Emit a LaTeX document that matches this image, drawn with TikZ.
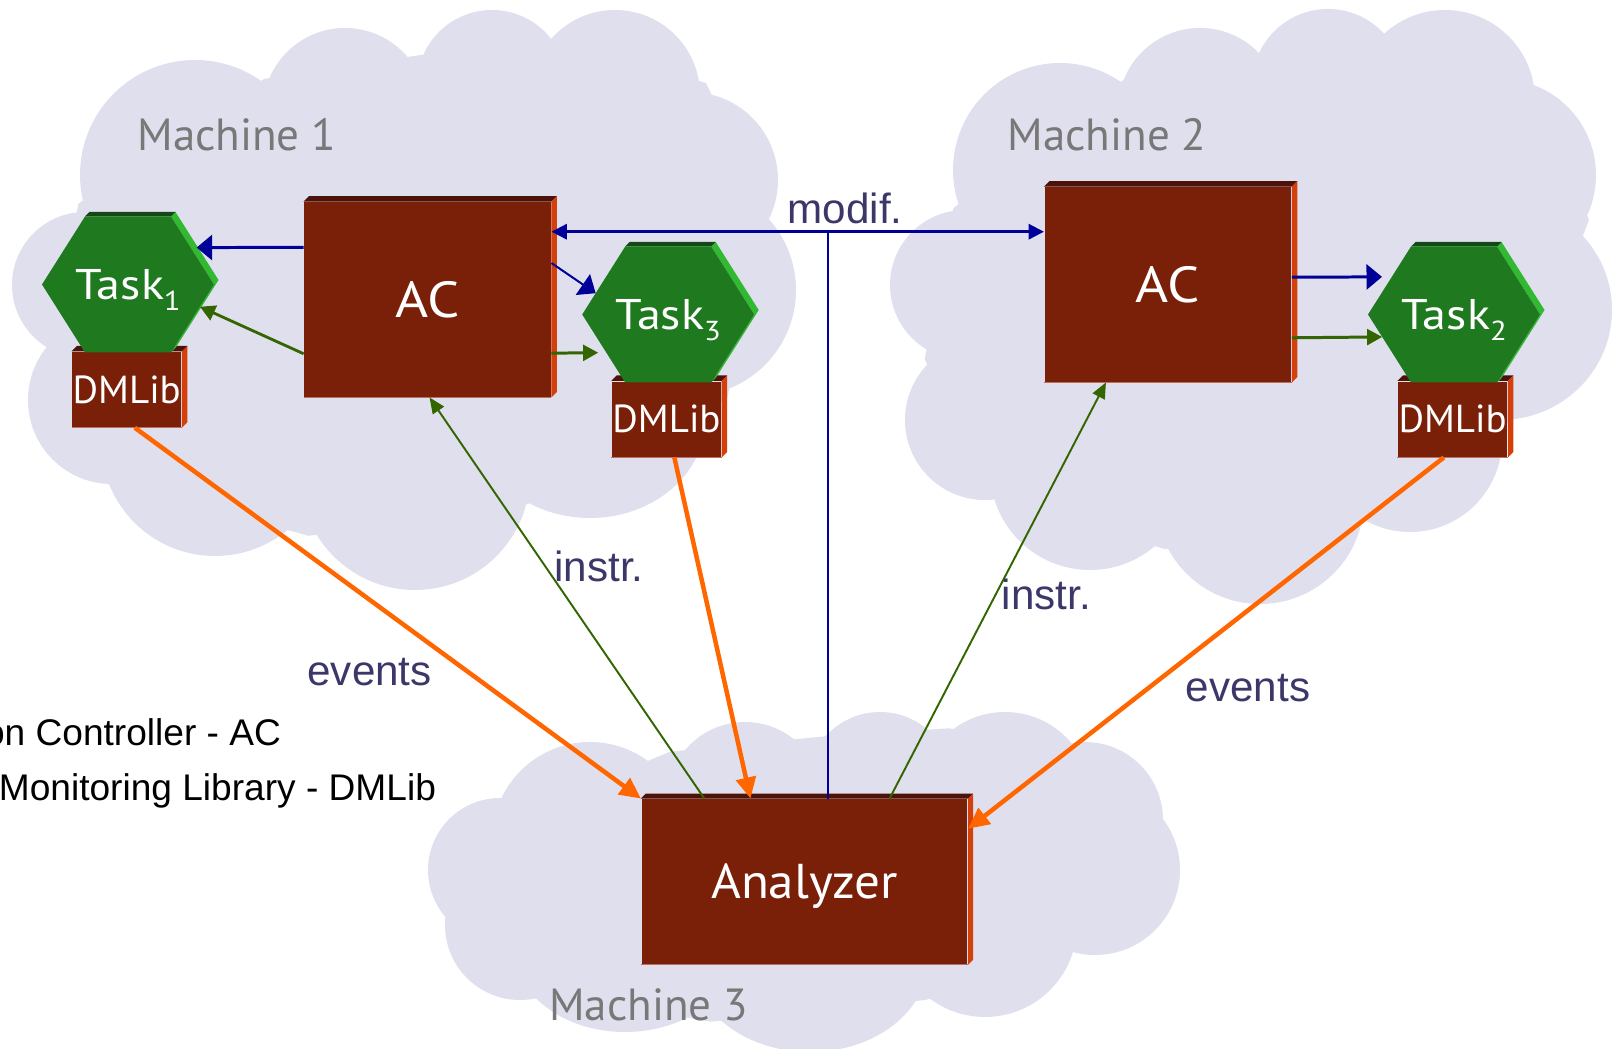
\documentclass[tikz,border=0pt]{standalone}
\usepackage{fontspec}
\setmainfont{PT Sans}
\newfontfamily\labelfont{Liberation Sans}
\newfontfamily\wideboxfont{PT Sans}[FakeStretch=1.12]
\newfontfamily\analyzerfont{PT Sans}[FakeStretch=1.045]
\usetikzlibrary{arrows.meta,calc}

\definecolor{cloudc}{RGB}{223,223,238}
\definecolor{boxred}{RGB}{122,31,8}
\definecolor{boxtop}{RGB}{77,18,8}
\definecolor{boxside}{RGB}{211,64,12}
\definecolor{boxedge}{RGB}{190,110,95}
\definecolor{hexfront}{RGB}{31,122,31}
\definecolor{hextop}{RGB}{20,72,20}
\definecolor{hexside}{RGB}{50,185,50}
\definecolor{navyc}{RGB}{0,0,153}
\definecolor{greenc}{RGB}{51,102,0}
\definecolor{orangec}{RGB}{255,102,0}
\definecolor{labelc}{RGB}{60,55,105}
\definecolor{machinegray}{RGB}{120,120,120}

% extruded top and right faces of a box node
\newcommand{\boxfaces}[2]{%
  \fill[boxtop] (#1.north west) -- ++(#2,-#2) -- ([shift={(#2,-#2)}]#1.north east) -- (#1.north east) -- cycle;
  \fill[boxside] (#1.north east) -- ([shift={(#2,-#2)}]#1.north east) -- ([shift={(#2,-#2)}]#1.south east) -- (#1.south east) -- cycle;
  \draw[boxedge, line width=0.3pt] (#1.south west) -- (#1.south east);
}

% a task hexagon with its corner coordinates: name, centre x, centre y, text
\newcommand{\taskhex}[4]{%
  \fill[hexside] ({#2+43},{#3-68}) -- ({#2+86},{#3}) -- ({#2+43},{#3+68}) -- ({#2+47.5},{#3+63.5}) -- ({#2+90.5},{#3-4.5}) -- ({#2+47.5},{#3-72.5}) -- cycle;
  \fill[hextop] ({#2-43},{#3-68}) -- ({#2+43},{#3-68}) -- ({#2+47.5},{#3-72.5}) -- ({#2-38.5},{#3-72.5}) -- cycle;
  \fill[hexfront] ({#2-86},{#3}) -- ({#2-43},{#3-68}) -- ({#2+43},{#3-68}) -- ({#2+86},{#3}) -- ({#2+43},{#3+68}) -- ({#2-43},{#3+68}) -- cycle;
  \node[hexslot] (#1) at (#2,#3) {#4};
  \coordinate (#1-w)  at ({#2-86},{#3});
  \coordinate (#1-nw) at ({#2-43},{#3-68});
  \coordinate (#1-ne) at ({#2+43},{#3-68});
  \coordinate (#1-e)  at ({#2+86},{#3});
  \coordinate (#1-se) at ({#2+43},{#3+68});
  \coordinate (#1-sw) at ({#2-43},{#3+68});
}

\newcommand{\tasksub}[1]{\raisebox{-3pt}{\fontsize{7.8}{8}\selectfont #1}}

\begin{document}
\begin{tikzpicture}[x=0.01cm, y=-0.01cm,
  cloudbg/.style={fill=cloudc},
  boxnode/.style={rectangle, fill=boxred, inner sep=0pt, text=white, text depth=0pt},
  acbox/.style={boxnode, minimum width=2.463cm, minimum height=1.944cm,
    font=\wideboxfont\fontsize{14.4}{16}\selectfont, text height=10.1pt},
  anbox/.style={boxnode, minimum width=3.256cm, minimum height=1.647cm,
    font=\analyzerfont\fontsize{13.9}{16}\selectfont, text height=9.76pt},
  dmbox/.style={boxnode, minimum width=1.09cm, minimum height=0.75cm,
    font=\fontsize{11.1}{13}\selectfont, text height=7.77pt},
  hexslot/.style={rectangle, inner sep=0pt, minimum width=1.72cm, minimum height=1.36cm,
    text=white, font=\wideboxfont\fontsize{12.2}{14}\selectfont, text height=8.54pt, text depth=0pt},
  machine/.style={text=machinegray, font=\fontsize{12.8}{15}\selectfont, anchor=base, inner sep=0pt},
  flowlabel/.style={text=labelc, font=\labelfont\fontsize{12}{14}\selectfont, anchor=base, inner sep=0pt},
  legendline/.style={text=black, font=\labelfont\fontsize{10.55}{12}\selectfont, anchor=base east, inner sep=0pt},
  ctrlblue/.style={draw=navyc, line width=0.85pt, -{Triangle[length=4.4pt,width=7.1pt]}},
  ctrlbluethin/.style={draw=navyc, line width=0.57pt, -{Triangle[length=4.4pt,width=7.1pt]}},
  modifline/.style={draw=navyc, line width=0.85pt,
    {Triangle[length=4.4pt,width=4.3pt]}-{Triangle[length=4.4pt,width=4.3pt]}},
  modifstem/.style={draw=navyc, line width=0.57pt},
  ctrlgreen/.style={draw=greenc, line width=0.8pt, -{Triangle[length=4.3pt,width=4.5pt]}},
  instrline/.style={draw=greenc, line width=0.55pt, -{Triangle[length=4.5pt,width=3.8pt]}},
  eventline/.style={draw=orangec, line width=1.28pt, -{Triangle[length=6pt,width=5.6pt]}}
]
\useasboundingbox (0,0) rectangle (1612,1049);

% ---- cloud of machine 1
\fill[cloudbg] (78.5,203.6) -- (264,79) -- (418,55.4) -- (551.8,39.5) -- (706,83) -- (768.8,215.5)
  -- (727,399) -- (528,504) -- (308.6,535.8) -- (120.3,484.4) -- (49.7,350) -- cycle;
\fill[cloudbg] (85,285) circle[radius=73];
\fill[cloudbg] (195,175) circle[radius=115];
\fill[cloudbg] (345,110) circle[radius=82];
\fill[cloudbg] (492,85) circle[radius=75];
\fill[cloudbg] (615,95) circle[radius=85];
\fill[cloudbg] (690,180) circle[radius=88];
\fill[cloudbg] (690,290) circle[radius=106];
\fill[cloudbg] (590,420) ellipse[x radius=115, y radius=98];
\fill[cloudbg] (415,475) circle[radius=115];
\fill[cloudbg] (215,442) circle[radius=114];
\fill[cloudbg] (112,400) circle[radius=84];

% ---- cloud of machine 2
\fill[cloudbg] (953.5,208) -- (924.7,359) -- (987,496) -- (1164.5,549) -- (1363.6,522.4) -- (1512,420)
  -- (1589,220) -- (1531.5,83.7) -- (1387.6,40.8) -- (1265,55) -- (1123.8,79.6) -- cycle;
\fill[cloudbg] (965,285) circle[radius=75];
\fill[cloudbg] (985,420) circle[radius=80];
\fill[cloudbg] (1090,470) circle[radius=100];
\fill[cloudbg] (1260,500) circle[radius=104];
\fill[cloudbg] (1410,440) circle[radius=92];
\fill[cloudbg] (1500,310) ellipse[x radius=112, y radius=110];
\fill[cloudbg] (1500,175) circle[radius=96];
\fill[cloudbg] (1445,100) circle[radius=90];
\fill[cloudbg] (1328,85) circle[radius=76];
\fill[cloudbg] (1200,110) circle[radius=82];
\fill[cloudbg] (1060,170) circle[radius=107];

% ---- cloud of machine 3
\fill[cloudbg] (494.4,825) -- (463.8,910) -- (527.6,990) -- (711,1021.7) -- (925.5,1000) -- (1078.6,946.7)
  -- (1155,831.7) -- (1094,753) -- (948.5,728.3) -- (821,736.7) -- (670,751.7) -- cycle;
\fill[cloudbg] (500,870) circle[radius=72];
\fill[cloudbg] (520,925) circle[radius=75];
\fill[cloudbg] (625,950) ellipse[x radius=110, y radius=82];
\fill[cloudbg] (810,960) ellipse[x radius=118, y radius=92];
\fill[cloudbg] (985,925) circle[radius=92];
\fill[cloudbg] (1095,870) circle[radius=85];
\fill[cloudbg] (1085,820) circle[radius=78];
\fill[cloudbg] (1005,795) ellipse[x radius=85, y radius=83];
\fill[cloudbg] (880,785) circle[radius=73];
\fill[cloudbg] (745,800) circle[radius=78];
\fill[cloudbg] (590,840) circle[radius=98];

% ---- machine names
\node[machine] (m1name) at (236.9,150.3) {Machine 1};
\node[machine] (m2name) at (1107,151) {Machine 2};
\node[machine] (m3name) at (648.7,1020) {Machine 3};

% ---- monitoring libraries (under the task hexagons)
\node[dmbox] (dm1) at (126.75,389.5) {DMLib};   \boxfaces{dm1}{5.5}
\node[dmbox] (dm3) at (666.5,419.2) {DMLib};    \boxfaces{dm3}{5.5}
\node[dmbox] (dm2) at (1452.6,419.2) {DMLib};   \boxfaces{dm2}{5.5}

% ---- tasks
\taskhex{task1}{128}{284.5}{Task\tasksub{1}}
\taskhex{task3}{668.2}{314.5}{Task\tasksub{3}}
\taskhex{task2}{1454}{314.5}{Task\tasksub{2}}

% ---- controllers and analyzer
\node[acbox] (ac1) at (427.55,299.5) {AC};        \boxfaces{ac1}{5.5}
\node[acbox] (ac2) at (1167.9,284.5) {AC};        \boxfaces{ac2}{5.5}
\node[anbox] (analyzer) at (804.5,881.65) {Analyzer}; \boxfaces{analyzer}{5}

% ---- controller to task connections
\draw[ctrlblue, shorten >=1.7pt] ($(ac1.north west)!0.234!(ac1.south west)$) -- ($(task1-ne)!0.457!(task1-e)$);
\draw[ctrlgreen] ($(ac1.north west)!0.777!(ac1.south west)$) -- ($(task1-e)!0.327!(task1-se)$);
\draw[ctrlbluethin] ($(ac1.north east)!0.314!(ac1.south east)$) -- ($(task3-nw)!0.687!(task3-w)$);
\draw[ctrlgreen, line width=0.85pt, shorten >=2.3pt] ($(ac1.north east)!0.774!(ac1.south east)$) -- ($(task3-w)!0.56!(task3-sw)$);
\draw[ctrlblue, shorten >=2.8pt] ($(ac2.north east)!0.463!(ac2.south east)$) -- ($(task2-nw)!0.446!(task2-w)$);
\draw[ctrlgreen, line width=0.85pt] ($(ac2.north east)!0.772!(ac2.south east)$) -- ($(task2-w)!0.33!(task2-sw)$);

% ---- modification channel between the controllers and the analyzer
\coordinate (modifleft) at ($(ac1.north east)!0.154!(ac1.south east)$);
\coordinate (modifstemfoot) at ($(analyzer.north west)!0.571!(analyzer.north east)$);
\draw[modifstem] (modifstemfoot) -- (modifstemfoot |- modifleft);
\draw[modifline] (modifleft) -- (modifleft -| ac2.west);

% ---- instrumentation requests
\draw[instrline] ($(analyzer.north west)!0.194!(analyzer.north east)$) -- ($(ac1.south west)!0.508!(ac1.south east)$);
\draw[instrline] ($(analyzer.north west)!0.760!(analyzer.north east)$) -- ($(ac2.south west)!0.25!(ac2.south east)$);

% ---- event streams
\draw[eventline] ($(dm1.south west)!0.573!(dm1.south east)$) -- (analyzer.north west);
\draw[eventline] ($(dm3.south west)!0.571!(dm3.south east)$) -- ($(analyzer.north west)!0.335!(analyzer.north east)$);
\draw[eventline] ($(dm2.south west)!0.421!(dm2.south east)$) -- ($(analyzer.north east)!0.182!(analyzer.south east)$);

% ---- connector labels
\node[flowlabel] (modiflabel) at (845.1,223.3) {modif.};
\node[flowlabel] (instrlabel1) at (598.9,581.3) {instr.};
\node[flowlabel] (instrlabel2) at (1046.3,610) {instr.};
\node[flowlabel] (eventslabel1) at (369.6,685.7) {events};
\node[flowlabel] (eventslabel2) at (1248,701) {events};

% ---- legend
\node[legendline] (legendac) at (281.7,745) {on Controller - AC};
\node[legendline] (legenddm) at (436.7,800) {Monitoring Library - DMLib};
\end{tikzpicture}
\end{document}
